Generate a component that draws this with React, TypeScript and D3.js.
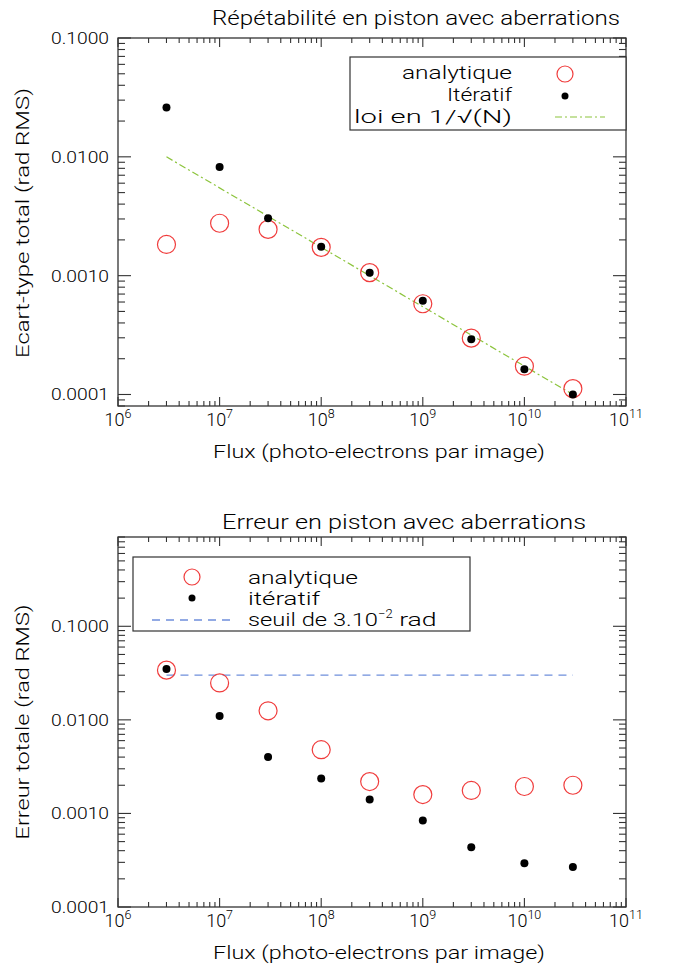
import React, { useEffect, useRef } from 'react';
import * as d3 from 'd3';

// flux values (photo-electrons per image)
const fluxValues = [3e6, 1e7, 3e7, 1e8, 3e8, 1e9, 3e9, 1e10, 3e10];

// top panel : repeatability
const repAnalytique = [0.00183, 0.00276, 0.00245, 0.00173, 0.00106, 0.00058, 0.000298, 0.000173, 0.000112];
const repIteratif = [0.026, 0.0082, 0.00304, 0.00175, 0.00106, 0.000614, 0.000292, 0.000163, 0.0001];
const loiFlux = [3e6, 3e10];
const loiValues = [0.01, 0.0001];

// bottom panel : total error
const errAnalytique = [0.034, 0.0248, 0.0125, 0.0048, 0.00219, 0.00159, 0.00176, 0.00194, 0.002];
const errIteratif = [0.0349, 0.011, 0.004, 0.00236, 0.00141, 0.00084, 0.000435, 0.000294, 0.000267];
const seuilFlux = [3e6, 3e10];
const seuilValues = [0.03, 0.03];

const xTickExps = [6, 7, 8, 9, 10, 11];
const yTickValues = [0.1, 0.01, 0.001, 0.0001];
const yTickLabels = ['0.1000', '0.0100', '0.0010', '0.0001'];

const FONT = "Roboto, 'DejaVu Sans', sans-serif";
const WEIGHT = 300;
const RED = '#f03c3c';
const GREEN = '#8cc43c';
const BLUE = '#6f8fdc';
const AXIS = '#333';

const LEFT = 118;
const RIGHT = 626;

// stretched text helper (the original uses a wide stroke font)
function wideText(g: any, txt: string, x: number, y: number, size: number, len: number) {
  return g.append('text')
    .attr('x', x)
    .attr('y', y)
    .attr('textLength', len)
    .attr('lengthAdjust', 'spacingAndGlyphs')
    .style('font-family', FONT)
    .style('font-weight', WEIGHT)
    .style('font-size', size + 'px')
    .text(txt);
}

function drawPanel(svg: any, p: any) {
  const g = svg.append('g');
  const x = d3.scaleLog().domain([1e6, 1e11]).range([LEFT, RIGHT]);
  const y = d3.scaleLog().domain(p.yDomain).range([p.bottom, p.top]);

  // frame
  g.append('rect')
    .attr('x', LEFT)
    .attr('y', p.top)
    .attr('width', RIGHT - LEFT)
    .attr('height', p.bottom - p.top)
    .attr('fill', 'none')
    .attr('stroke', AXIS)
    .attr('stroke-width', 1.3);

  // x ticks (major + minor), on bottom and top
  const xt: { v: number; major: boolean }[] = [];
  for (let e = 6; e < 11; e++) {
    for (let m = 1; m < 10; m++) xt.push({ v: m * Math.pow(10, e), major: m === 1 });
  }
  xt.push({ v: 1e11, major: true });
  xt.forEach((t) => {
    const len = t.major ? 9 : 5;
    const px = x(t.v);
    g.append('line').attr('x1', px).attr('x2', px).attr('y1', p.bottom).attr('y2', p.bottom - len)
      .attr('stroke', AXIS).attr('stroke-width', 1.1);
    g.append('line').attr('x1', px).attr('x2', px).attr('y1', p.top).attr('y2', p.top + len)
      .attr('stroke', AXIS).attr('stroke-width', 1.1);
  });

  // y ticks
  const [ylo, yhi] = p.yDomain;
  const yt: { v: number; major: boolean }[] = [];
  for (let e = -5; e <= 0; e++) {
    for (let m = 1; m < 10; m++) {
      const v = m * Math.pow(10, e);
      if (v >= ylo * 0.999 && v <= yhi * 1.001) yt.push({ v, major: m === 1 });
    }
  }
  yt.forEach((t) => {
    const len = t.major ? 13 : 7;
    const py = y(t.v);
    g.append('line').attr('x1', LEFT).attr('x2', LEFT + len).attr('y1', py).attr('y2', py)
      .attr('stroke', AXIS).attr('stroke-width', 1.1);
    g.append('line').attr('x1', RIGHT).attr('x2', RIGHT - len).attr('y1', py).attr('y2', py)
      .attr('stroke', AXIS).attr('stroke-width', 1.1);
  });

  // y tick labels
  yTickValues.forEach((v, i) => {
    wideText(g, yTickLabels[i], LEFT - 67, y(v) + 6, 17, 58);
  });

  // x tick labels
  xTickExps.forEach((e) => {
    const t = g.append('text')
      .attr('x', x(Math.pow(10, e)))
      .attr('y', p.bottom + 20)
      .attr('text-anchor', 'middle')
      .style('font-family', FONT)
      .style('font-weight', WEIGHT)
      .style('font-size', '18px');
    t.append('tspan').text('10');
    t.append('tspan').attr('dy', -8).style('font-size', '12.5px').text(String(e));
  });

  // axis titles
  wideText(g, 'Flux (photo-electrons par image)', 213, p.bottom + 52, 18, 332);

  const yt2 = g.append('g')
    .attr('transform', `translate(29,${p.yMid + p.yLen / 2}) rotate(-90)`);
  wideText(yt2, p.yTitle, 0, 0, 18, p.yLen);

  wideText(g, p.title, p.titleX, p.titleY, 21, p.titleLen);

  // reference line
  const line = d3.line<number>().x((d, i) => x(p.lineX[i])).y((d) => y(d));
  g.append('path')
    .attr('d', line(p.lineY))
    .attr('fill', 'none')
    .attr('stroke', p.lineColor)
    .attr('stroke-width', 1.2)
    .attr('stroke-dasharray', p.lineDash);

  // analytique circles
  g.selectAll('.ana')
    .data(p.analytique)
    .enter()
    .append('circle')
    .attr('cx', (d: number, i: number) => x(fluxValues[i]))
    .attr('cy', (d: number) => y(d))
    .attr('r', 9)
    .attr('fill', 'none')
    .attr('stroke', RED)
    .attr('stroke-width', 1.2);

  // iteratif dots
  g.selectAll('.ite')
    .data(p.iteratif)
    .enter()
    .append('circle')
    .attr('cx', (d: number, i: number) => x(fluxValues[i]))
    .attr('cy', (d: number) => y(d))
    .attr('r', 4)
    .attr('fill', '#000');

  // legend
  const lg = g.append('g');
  if (p.legend === 'top') {
    const bx = 350, by = 57, bw = 276, bh = 73;
    lg.append('rect').attr('x', bx).attr('y', by).attr('width', bw).attr('height', bh)
      .attr('fill', '#fff').attr('stroke', AXIS).attr('stroke-width', 1.2);
    wideText(lg, 'analytique', 402, by + 22, 19, 110);
    wideText(lg, 'Itératif', 447, by + 44, 19, 65);
    wideText(lg, 'loi en 1/\u221A(N)', 354, by + 66, 19, 158);
    lg.append('circle').attr('cx', 565).attr('cy', by + 17).attr('r', 8)
      .attr('fill', 'none').attr('stroke', RED).attr('stroke-width', 1.2);
    lg.append('circle').attr('cx', 565).attr('cy', by + 39).attr('r', 3.5).attr('fill', '#000');
    lg.append('line').attr('x1', 555).attr('x2', 605).attr('y1', by + 60).attr('y2', by + 60)
      .attr('stroke', p.lineColor).attr('stroke-width', 1.2).attr('stroke-dasharray', p.lineDash);
  } else {
    const bx = 133, by = 557, bw = 337, bh = 74;
    lg.append('rect').attr('x', bx).attr('y', by).attr('width', bw).attr('height', bh)
      .attr('fill', '#fff').attr('stroke', AXIS).attr('stroke-width', 1.2);
    wideText(lg, 'analytique', 248, by + 27, 19, 110);
    wideText(lg, 'itératif', 248, by + 48, 19, 72);
    const t = lg.append('text')
      .attr('x', 248)
      .attr('y', by + 69)
      .style('font-family', FONT)
      .style('font-weight', WEIGHT)
      .style('font-size', '19px');
    t.append('tspan').attr('textLength', 130).attr('lengthAdjust', 'spacingAndGlyphs').text('seuil de 3.10');
    t.append('tspan').attr('dy', -8).style('font-size', '13px').text('\u22122');
    t.append('tspan').attr('dy', 8).attr('textLength', 44).attr('lengthAdjust', 'spacingAndGlyphs').text(' rad');
    lg.append('circle').attr('cx', 192).attr('cy', by + 20).attr('r', 8)
      .attr('fill', 'none').attr('stroke', RED).attr('stroke-width', 1.2);
    lg.append('circle').attr('cx', 192).attr('cy', by + 41).attr('r', 3.5).attr('fill', '#000');
    lg.append('line').attr('x1', 152).attr('x2', 234).attr('y1', by + 63).attr('y2', by + 63)
      .attr('stroke', p.lineColor).attr('stroke-width', 1.3).attr('stroke-dasharray', p.lineDash);
  }
}

const App = () => {
  const ref = useRef<SVGSVGElement | null>(null);

  useEffect(() => {
    if (!ref.current) return;
    const svg = d3.select(ref.current);
    svg.selectAll('*').remove();
    svg.append('rect').attr('width', 674).attr('height', 967).attr('fill', '#fff');

    drawPanel(svg, {
      top: 38,
      bottom: 406,
      yDomain: [8e-5, 0.1],
      title: 'Répétabilité en piston avec aberrations',
      titleX: 212,
      titleY: 25,
      titleLen: 408,
      yTitle: 'Ecart-type total (rad RMS)',
      yMid: 223,
      yLen: 270,
      analytique: repAnalytique,
      iteratif: repIteratif,
      lineX: loiFlux,
      lineY: loiValues,
      lineColor: GREEN,
      lineDash: '7,3,2,3',
      legend: 'top',
    });

    drawPanel(svg, {
      top: 537,
      bottom: 907,
      yDomain: [1e-4, 0.9],
      title: 'Erreur en piston avec aberrations',
      titleX: 222,
      titleY: 529,
      titleLen: 364,
      yTitle: 'Erreur totale (rad RMS)',
      yMid: 722,
      yLen: 235,
      analytique: errAnalytique,
      iteratif: errIteratif,
      lineX: seuilFlux,
      lineY: seuilValues,
      lineColor: BLUE,
      lineDash: '8,6',
      legend: 'bottom',
    });
  }, []);

  return (
    <div style={{ position: 'absolute', left: 0, top: 0 }}>
      <svg ref={ref} width={674} height={967} />
    </div>
  );
};

export default App;
